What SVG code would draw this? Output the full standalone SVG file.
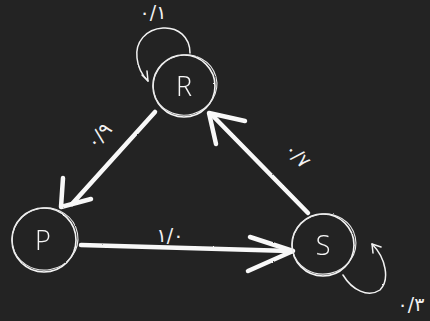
<svg xmlns="http://www.w3.org/2000/svg" width="430" height="321" viewBox="0 0 430 321">
  <defs>
    <filter id="chalk" x="-10%" y="-10%" width="120%" height="120%">
      <feTurbulence type="fractalNoise" baseFrequency="0.9" numOctaves="2" seed="3" result="n"/>
      <feDisplacementMap in="SourceGraphic" in2="n" scale="1.6" xChannelSelector="R" yChannelSelector="G"/>
    </filter>
  </defs>
  <style>
    .ring { fill: none; stroke: #f4f4f4; stroke-width: 1.6; }
    .ring2 { fill: none; stroke: #e8e8e8; stroke-width: 1.1; }
    .state { fill: #f6f6f6; font-family: "Open Sans", "DejaVu Sans", sans-serif; font-weight: 300; font-size: 27px; text-anchor: middle; }
    .edge { fill: none; stroke: #f8f8f8; stroke-width: 4.5; stroke-linecap: round; stroke-linejoin: round; }
    .head { fill: none; stroke: #f8f8f8; stroke-width: 4.5; stroke-linecap: round; stroke-linejoin: round; }
    .loop { fill: none; stroke: #f2f2f2; stroke-width: 1.5; stroke-linecap: round; stroke-linejoin: round; }
    .lbl { fill: #f2f2f2; font-family: "DejaVu Sans", "Noto Sans", sans-serif; font-size: 19px; text-anchor: middle; }
  </style>
  <rect width="430" height="321" fill="#232323"/>

  <g id="connectors" filter="url(#chalk)">
    <!-- R self loop -->
    <path class="loop" d="M190,53 C190,37 178,27 163,28 C146,29 135,42 137,58 C138,68 143,76 148,81"/>
    <path class="loop" d="M142,75 L148,81 L147,71"/>
    <!-- R to P -->
    <path class="edge" d="M155,112 L72,204"/>
    <path class="head" d="M63,178 L61,207 L91,199"/>
    <!-- S to R -->
    <path class="edge" d="M308,213 L213,116"/>
    <path class="head" d="M216,144 L209,113 L245,121"/>
    <!-- P to S -->
    <path class="edge" d="M81,245 L290,251"/>
    <path class="head" d="M250,237 L293,251 L248,271"/>
    <!-- S self loop -->
    <path class="loop" d="M343,275 C352,290 368,298 380,290 C390,280 386,258 372,244"/>
    <path class="loop" d="M373,253 L372,244 L381,247"/>
  </g>

  <g id="labels" class="lbl">
    <text x="153" y="19">۰/۱</text>
    <text x="104" y="140" transform="rotate(-48 104 140)">۰/۹</text>
    <text x="293" y="160" transform="rotate(45 293 160)">۰/۷</text>
    <text x="170" y="242">۱/۰</text>
    <text x="411" y="311">۰/۳</text>
  </g>

  <g id="node-R" filter="url(#chalk)">
    <circle class="ring" cx="184" cy="86" r="31"/>
    <ellipse class="ring2" cx="185" cy="85" rx="32" ry="30" transform="rotate(-15 185 85)"/>
    <text class="state" x="184" y="96">R</text>
  </g>
  <g id="node-P" filter="url(#chalk)">
    <circle class="ring" cx="44" cy="240" r="32"/>
    <ellipse class="ring2" cx="45" cy="239" rx="33" ry="31" transform="rotate(-10 45 239)"/>
    <text class="state" x="43" y="250">P</text>
  </g>
  <g id="node-S" filter="url(#chalk)">
    <circle class="ring" cx="323" cy="245" r="31"/>
    <ellipse class="ring2" cx="324" cy="244" rx="32" ry="30" transform="rotate(-12 324 244)"/>
    <text class="state" x="323" y="255">S</text>
  </g>
</svg>
